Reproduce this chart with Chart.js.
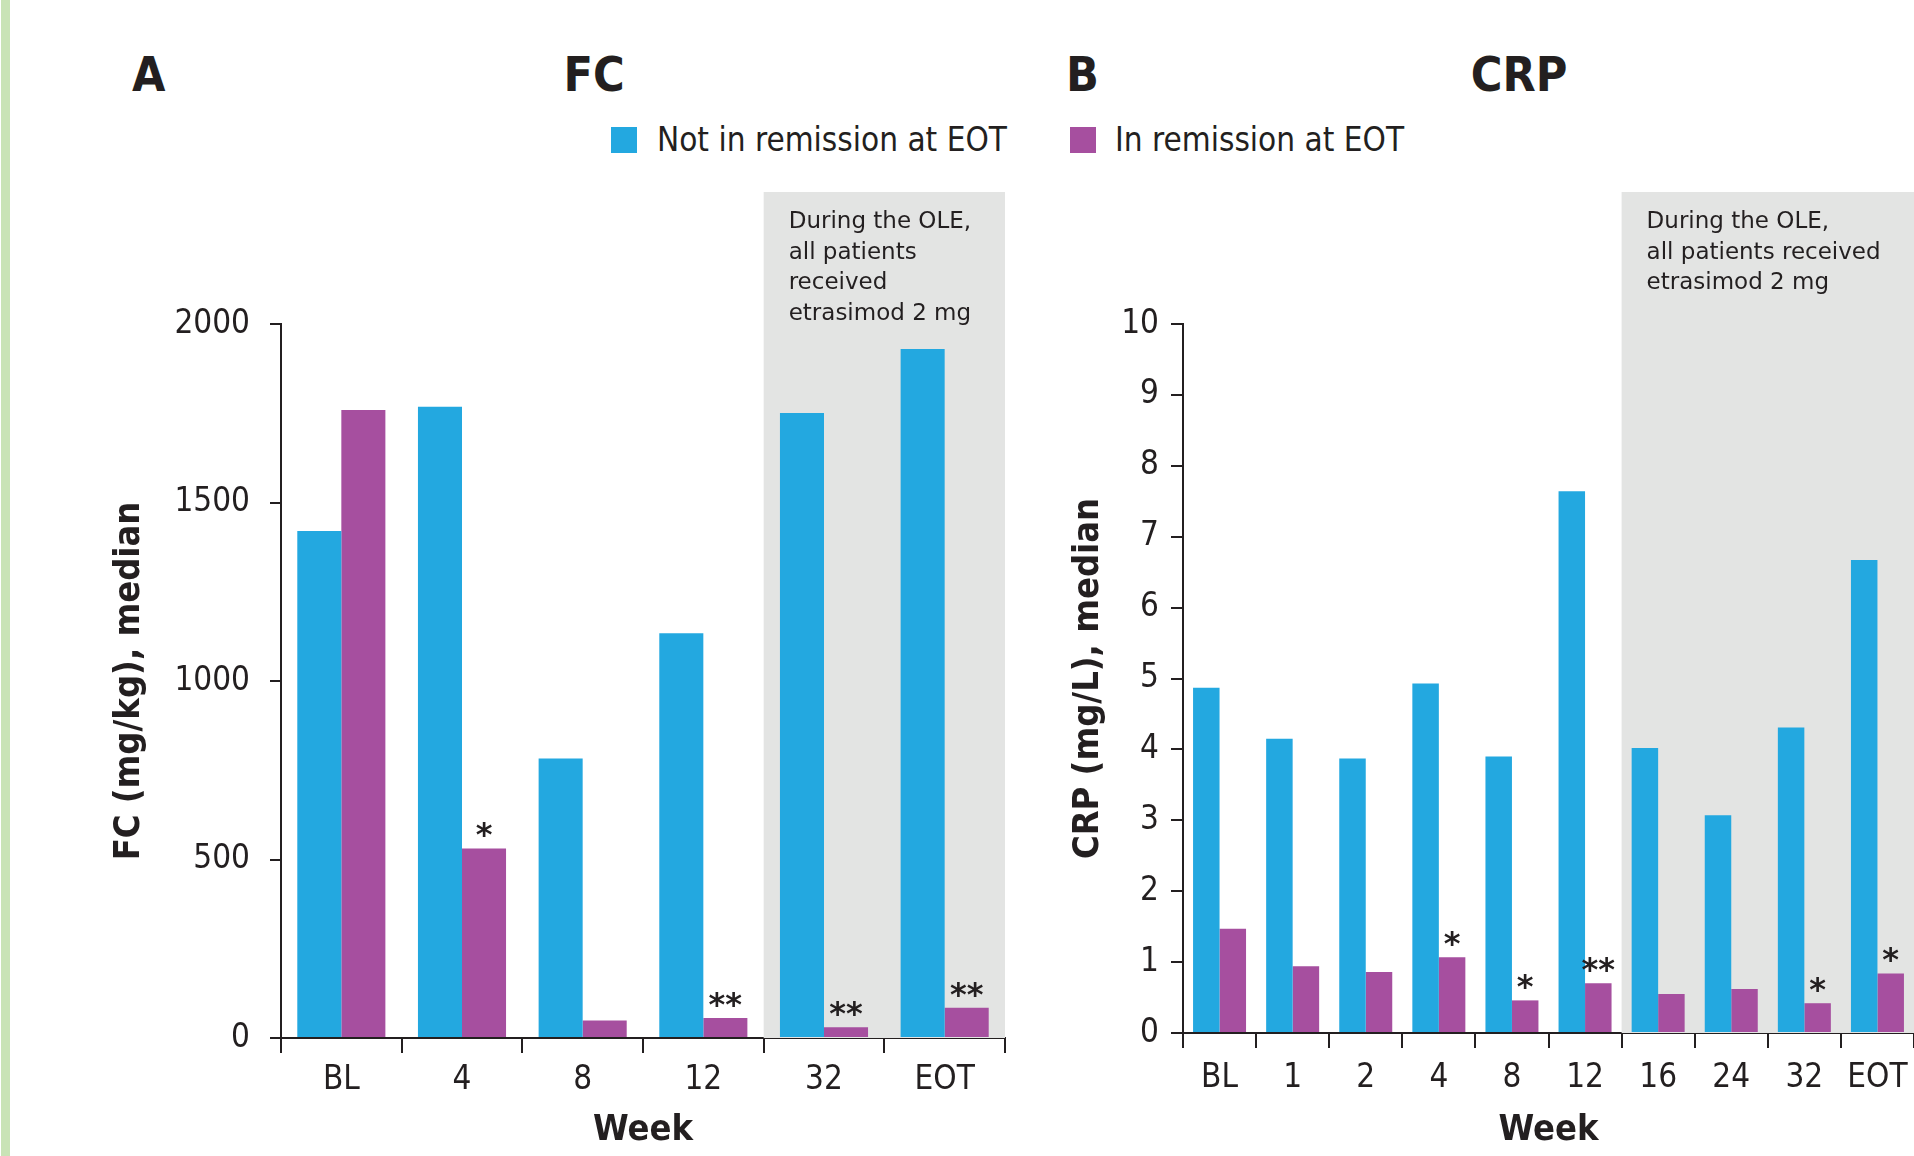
<!DOCTYPE html>
<html>
<head>
<meta charset="utf-8">
<script src="https://cdn.jsdelivr.net/npm/chart.js@4.4.1/dist/chart.umd.min.js"></script>
<style>
    html, body { margin: 0; padding: 0; width: 1914px; height: 1156px; overflow: hidden; background: #fff; }
    .frame-line { position: absolute; left: 1px; top: 0; width: 9px; height: 1156px; background: #c9e3b6; }
    canvas { position: absolute; top: 0; }
    .title { position: absolute; font: bold 48px "DejaVu Sans Condensed", "DejaVu Sans", sans-serif; line-height: 48px; color: #231f20; white-space: nowrap; }
    .legend { position: absolute; top: 123px; font: 33px "DejaVu Sans Condensed", "DejaVu Sans", sans-serif; line-height: 33px; color: #231f20; white-space: nowrap; }
    .legend .sw { position: absolute; top: 4px; width: 26px; height: 26px; }
</style>
</head>
<body>
<div class="frame-line"></div>

<div class="title" style="left:132px; top:50px;">A</div>
<div class="title" style="left:594px; top:50px; transform:translateX(-50%);">FC</div>
<div class="title" style="left:1066px; top:50px;">B</div>
<div class="title" style="left:1519px; top:50px; transform:translateX(-50%);">CRP</div>

<div class="legend" style="left:611px;"><span class="sw" style="left:0; background:#23a8e0;"></span><span style="margin-left:46px;">Not in remission at EOT</span></div>
<div class="legend" style="left:1070px;"><span class="sw" style="left:0; background:#a64f9f;"></span><span style="margin-left:45px;">In remission at EOT</span></div>

<canvas id="fcChart" width="1010" height="1156" style="left:0;"></canvas>
<canvas id="crpChart" width="874" height="1156" style="left:1040px;"></canvas>

<script>
// ── Data ───────────────────────────────────────────────────
const weeksFC = ['BL', '4', '8', '12', '32', 'EOT'];
const fcNotRemission = [1420, 1768, 783, 1134, 1751, 1930];
const fcRemission    = [1759, 531, 49, 56, 30, 85];
const fcStars        = ['', '*', '', '**', '**', '**'];
const fcTicks        = [0, 500, 1000, 1500, 2000];

const weeksCRP = ['BL', '1', '2', '4', '8', '12', '16', '24', '32', 'EOT'];
const crpNotRemission = [4.87, 4.15, 3.87, 4.93, 3.90, 7.64, 4.02, 3.07, 4.31, 6.67];
const crpRemission    = [1.47, 0.94, 0.86, 1.07, 0.46, 0.70, 0.55, 0.62, 0.42, 0.84];
const crpStars        = ['', '', '', '*', '*', '**', '', '', '*', '*'];
const crpTicks        = [0, 1, 2, 3, 4, 5, 6, 7, 8, 9, 10];

const oleNoteFC  = ['During the OLE,', 'all patients', 'received', 'etrasimod 2 mg'];
const oleNoteCRP = ['During the OLE,', 'all patients received', 'etrasimod 2 mg'];

const BLUE    = '#23a8e0';
const MAGENTA = '#a64f9f';
const INK     = '#231f20';
const SHADE   = '#e3e4e3';
const COND    = '"DejaVu Sans Condensed", "DejaVu Sans", sans-serif';

// ── Shaded OLE block + significance stars ──────────────────
const panelDecor = {
    id: 'panelDecor',
    beforeDatasetsDraw(chart, args, opts) {
        const { ctx, chartArea, scales: { x } } = chart;
        const half = (x.getPixelForValue(1) - x.getPixelForValue(0)) / 2;
        const x0 = x.getPixelForValue(opts.shadeFrom) - half;
        ctx.save();
        ctx.fillStyle = SHADE;
        ctx.fillRect(x0, opts.shadeTop, chartArea.right - x0, chartArea.bottom - opts.shadeTop);
        ctx.fillStyle = INK;
        ctx.font = '23px "DejaVu Sans", sans-serif';
        ctx.textBaseline = 'alphabetic';
        opts.note.forEach((line, i) => ctx.fillText(line, x0 + 25, opts.noteTop + i * 30.5));
        ctx.restore();
    },
    afterDatasetsDraw(chart, args, opts) {
        const { ctx } = chart;
        const meta = chart.getDatasetMeta(1);
        ctx.save();
        ctx.fillStyle = INK;
        ctx.font = 'bold 32px "DejaVu Sans", sans-serif';
        ctx.textAlign = 'center';
        ctx.textBaseline = 'alphabetic';
        meta.data.forEach((bar, i) => {
            if (opts.stars[i]) ctx.fillText(opts.stars[i], bar.x, bar.y - 3);
        });
        ctx.restore();
    }
};

// ── Axis builders ──────────────────────────────────────────
function xAxis(height, labelPad) {
    return {
        z: 1,
        afterFit: s => { s.height = height; s.paddingLeft = 0; s.paddingRight = 0; },
        border: { display: true, color: INK, width: 2 },
        grid: { display: true, drawOnChartArea: false, drawTicks: true, offset: true,
                tickLength: 15, color: INK, lineWidth: 2 },
        ticks: { color: INK, font: { family: COND, size: 33 }, padding: labelPad,
                 maxRotation: 0, autoSkip: false },
        title: { display: true, text: 'Week', color: INK,
                 font: { family: COND, size: 36, weight: 'bold' }, padding: { top: 0, bottom: 4 } }
    };
}

function yAxis(width, max, ticks, tickLen, labelPad, text, titlePad) {
    return {
        min: 0, max: max,
        afterFit: s => { s.width = width; },
        afterBuildTicks: s => { s.ticks = ticks.map(v => ({ value: v })); },
        border: { display: true, color: INK, width: 2 },
        grid: { display: true, drawOnChartArea: false, drawTicks: true,
                tickLength: tickLen, color: INK, lineWidth: 2 },
        ticks: { color: INK, font: { family: COND, size: 33 }, padding: labelPad,
                 callback: v => String(v) },
        title: { display: true, text: text, color: INK,
                 font: { family: COND, size: 36, weight: 'bold' }, padding: { top: titlePad, bottom: 0 } }
    };
}

function barSets(a, b, pct) {
    return [
        { label: 'Not in remission at EOT', data: a, backgroundColor: BLUE,
          barPercentage: 1, categoryPercentage: pct },
        { label: 'In remission at EOT', data: b, backgroundColor: MAGENTA,
          barPercentage: 1, categoryPercentage: pct }
    ];
}

// ── Panel A: FC ────────────────────────────────────────────
new Chart(document.getElementById('fcChart'), {
    type: 'bar',
    data: { labels: weeksFC, datasets: barSets(fcNotRemission, fcRemission, 0.73) },
    options: {
        responsive: false, animation: false,
        layout: { padding: { left: 0, top: 324, right: 5, bottom: 0 } },
        plugins: {
            legend: { display: false }, tooltip: { enabled: false },
            panelDecor: { shadeFrom: 4, shadeTop: 192, note: oleNoteFC, noteTop: 228, stars: fcStars }
        },
        scales: {
            x: xAxis(118, 8),
            y: yAxis(281, 2000, fcTicks, 11, 20, 'FC (mg/kg), median', 108)
        }
    },
    plugins: [panelDecor]
});

// ── Panel B: CRP ───────────────────────────────────────────
new Chart(document.getElementById('crpChart'), {
    type: 'bar',
    data: { labels: weeksCRP, datasets: barSets(crpNotRemission, crpRemission, 0.725) },
    options: {
        responsive: false, animation: false,
        layout: { padding: { left: 0, top: 324, right: 0, bottom: 0 } },
        plugins: {
            legend: { display: false }, tooltip: { enabled: false },
            panelDecor: { shadeFrom: 6, shadeTop: 192, note: oleNoteCRP, noteTop: 228, stars: crpStars }
        },
        scales: {
            x: xAxis(123, 11),
            y: yAxis(143, 10, crpTicks, 12, 12, 'CRP (mg/L), median', 27)
        }
    },
    plugins: [panelDecor]
});
</script>
</body>
</html>
